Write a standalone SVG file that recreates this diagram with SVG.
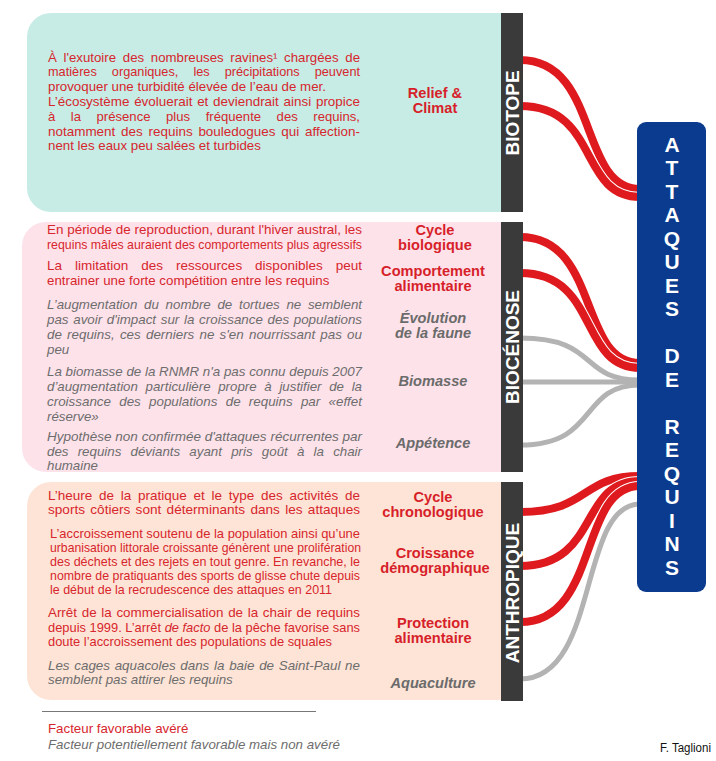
<svg xmlns="http://www.w3.org/2000/svg" width="716" height="761" viewBox="0 0 716 761">
<style>
text{font-family:"Liberation Sans",Arial,sans-serif}
.r{font-size:13.3px;fill:#d7262d}
.g{font-size:13.3px;fill:#6d6d6d;font-style:italic}
.lr{font-size:14.6px;font-weight:bold;fill:#d71f2a;text-anchor:middle}
.lg{font-size:14.6px;font-weight:bold;font-style:italic;fill:#6b6b6b;text-anchor:middle}
.bar{fill:#3a3a3a}
.bt{font-size:19px;font-weight:bold;fill:#fff;text-anchor:middle}
.bl{font-size:21px;font-weight:bold;fill:#fff;text-anchor:middle}
.cw{fill:none;stroke:#fff;stroke-width:10}
.cr{fill:none;stroke:#de1a1f;stroke-width:8}
.cg{fill:none;stroke:#b3b3b3;stroke-width:5}
</style>
<defs>
<path id="p1" d="M520,60 C600,60 578,189 640,189"/>
<path id="p2" d="M520,106 C600,106 578,197 640,197"/>
<path id="p3" d="M520,237 C600,237 578,363 640,363"/>
<path id="p4" d="M520,273 C600,273 578,368 640,368"/>
<path id="p5" d="M520,512 C590,512 580,476 640,476"/>
<path id="p6" d="M520,566 C600,566 578,481 640,481"/>
<path id="p7" d="M520,622 C600,622 578,486 640,486"/>
</defs>

<g id="panel-biotope">
<path d="M51,13 H502 V212 H51 A24 24 0 0 1 27 188 V37 A24 24 0 0 1 51 13 Z" fill="#c6ece5"/>
<text class="r" x="48" y="61.5" textLength="312" lengthAdjust="spacingAndGlyphs" style="word-spacing:3px">À l'exutoire des nombreuses ravines¹ chargées de</text>
<text class="r" x="48" y="76.3" textLength="312" lengthAdjust="spacingAndGlyphs" style="word-spacing:12px">matières organiques, les précipitations peuvent</text>
<text class="r" x="48" y="91.1">provoquer une turbidité élevée de l’eau de mer.</text>
<text class="r" x="48" y="105.9" textLength="312" lengthAdjust="spacingAndGlyphs" style="word-spacing:1px">L’écosystème évoluerait et deviendrait ainsi propice</text>
<text class="r" x="48" y="120.7" textLength="312" lengthAdjust="spacingAndGlyphs" style="word-spacing:12px">à la présence plus fréquente des requins,</text>
<text class="r" x="48" y="135.5" textLength="312" lengthAdjust="spacingAndGlyphs" style="word-spacing:2px">notamment des requins bouledogues qui affection-</text>
<text class="r" x="48" y="150.3">nent les eaux peu salées et turbides</text>
<text class="lr" x="435" y="98">Relief &amp;<tspan x="435" dy="15">Climat</tspan></text>
</g>

<g id="panel-biocenose">
<path d="M46,222 H502 V472 H46 A24 24 0 0 1 22 448 V246 A24 24 0 0 1 46 222 Z" fill="#fde2ea"/>
<text class="r" x="47" y="234" textLength="315" lengthAdjust="spacingAndGlyphs">En période de reproduction, durant l'hiver austral, les</text>
<text class="r" x="47" y="249" textLength="315" lengthAdjust="spacingAndGlyphs">requins mâles auraient des comportements plus agressifs</text>
<text class="r" x="47" y="269.5" textLength="315" lengthAdjust="spacingAndGlyphs" style="word-spacing:9px">La limitation des ressources disponibles peut</text>
<text class="r" x="47" y="284.5">entrainer une forte compétition entre les requins</text>
<text class="g" x="47" y="308.5" textLength="315" lengthAdjust="spacingAndGlyphs" style="word-spacing:3px">L’augmentation du nombre de tortues ne semblent</text>
<text class="g" x="47" y="323.5" textLength="315" lengthAdjust="spacingAndGlyphs" style="word-spacing:1px">pas avoir d'impact sur la croissance des populations</text>
<text class="g" x="47" y="338.5" textLength="315" lengthAdjust="spacingAndGlyphs" style="word-spacing:1.5px">de requins, ces derniers ne s'en nourrissant pas ou</text>
<text class="g" x="47" y="353.5">peu</text>
<text class="g" x="47" y="375.5" textLength="315" lengthAdjust="spacingAndGlyphs">La biomasse de la RNMR n'a pas connu depuis 2007</text>
<text class="g" x="47" y="390.5" textLength="315" lengthAdjust="spacingAndGlyphs" style="word-spacing:4px">d’augmentation particulière propre à justifier de la</text>
<text class="g" x="47" y="405.5" textLength="315" lengthAdjust="spacingAndGlyphs" style="word-spacing:4.5px">croissance des populations de requins par «effet</text>
<text class="g" x="47" y="420.5">réserve»</text>
<text class="g" x="47" y="440.5" textLength="315" lengthAdjust="spacingAndGlyphs">Hypothèse non confirmée d'attaques récurrentes par</text>
<text class="g" x="47" y="455.5" textLength="315" lengthAdjust="spacingAndGlyphs" style="word-spacing:5.5px">des requins déviants ayant pris goût à la chair</text>
<text class="g" x="47" y="469.5">humaine</text>
<text class="lr" x="435" y="235">Cycle<tspan x="435" dy="15">biologique</tspan></text>
<text class="lr" x="433" y="276">Comportement<tspan x="433" dy="15">alimentaire</tspan></text>
<text class="lg" x="433" y="323">Évolution<tspan x="433" dy="15">de la faune</tspan></text>
<text class="lg" x="433" y="386">Biomasse</text>
<text class="lg" x="433" y="448">Appétence</text>
</g>

<g id="panel-anthropique">
<path d="M51,482 H502 V700 H51 A24 24 0 0 1 27 676 V506 A24 24 0 0 1 51 482 Z" fill="#fde4d6"/>
<text class="r" x="48" y="499.5" textLength="312" lengthAdjust="spacingAndGlyphs" style="word-spacing:3px">L’heure de la pratique et le type des activités de</text>
<text class="r" x="48" y="513.5" textLength="312" lengthAdjust="spacingAndGlyphs" style="word-spacing:1.5px">sports côtiers sont déterminants dans les attaques</text>
<text class="r" x="50" y="537.5" textLength="310" lengthAdjust="spacingAndGlyphs">L’accroissement soutenu de la population ainsi qu’une</text>
<text class="r" x="50" y="551.5" textLength="311" lengthAdjust="spacingAndGlyphs">urbanisation littorale croissante génèrent une prolifération</text>
<text class="r" x="50" y="565.5" textLength="310" lengthAdjust="spacingAndGlyphs">des déchets et des rejets en tout genre. En revanche, le</text>
<text class="r" x="50" y="579.5" textLength="310" lengthAdjust="spacingAndGlyphs">nombre de pratiquants des sports de glisse chute depuis</text>
<text class="r" x="50" y="593.5" textLength="282" lengthAdjust="spacingAndGlyphs">le début de la recrudescence des attaques en 2011</text>
<text class="r" x="48" y="617" textLength="312" lengthAdjust="spacingAndGlyphs" style="word-spacing:1px">Arrêt de la commercialisation de la chair de requins</text>
<text class="r" x="48" y="631.5" textLength="312" lengthAdjust="spacingAndGlyphs">depuis 1999. L’arrêt <tspan font-style="italic">de facto</tspan> de la pêche favorise sans</text>
<text class="r" x="48" y="645.5" textLength="284" lengthAdjust="spacingAndGlyphs">doute l’accroissement des populations de squales</text>
<text class="g" x="48" y="669.5" textLength="312" lengthAdjust="spacingAndGlyphs" style="word-spacing:1px">Les cages aquacoles dans la baie de Saint-Paul ne</text>
<text class="g" x="48" y="684">semblent pas attirer les requins</text>
<text class="lr" x="433" y="502">Cycle<tspan x="433" dy="15">chronologique</tspan></text>
<text class="lr" x="435" y="558">Croissance<tspan x="435" dy="15">démographique</tspan></text>
<text class="lr" x="433" y="628">Protection<tspan x="433" dy="15">alimentaire</tspan></text>
<text class="lg" x="433" y="688">Aquaculture</text>
</g>

<g id="connectors">
<path class="cg" d="M520,338 C600,338 578,380 640,380"/>
<path class="cg" d="M520,382 H640"/>
<path class="cg" d="M520,445 C600,445 578,385 640,385"/>
<path class="cg" d="M520,679 C600,679 578,504 640,504"/>
<use href="#p1" class="cw"/><use href="#p1" class="cr"/>
<use href="#p2" class="cw"/><use href="#p2" class="cr"/>
<use href="#p3" class="cw"/><use href="#p3" class="cr"/>
<use href="#p4" class="cw"/><use href="#p4" class="cr"/>
<use href="#p5" class="cw"/><use href="#p5" class="cr"/>
<use href="#p6" class="cw"/><use href="#p6" class="cr"/>
<use href="#p7" class="cw"/><use href="#p7" class="cr"/>
</g>

<g id="bar-biotope">
<rect class="bar" x="501" y="13" width="22" height="199"/>
<text class="bt" transform="translate(519,113) rotate(-90)">BIOTOPE</text>
</g>
<g id="bar-biocenose">
<rect class="bar" x="501" y="222" width="22" height="250"/>
<text class="bt" transform="translate(519,347) rotate(-90)">BIOCÉNOSE</text>
</g>
<g id="bar-anthropique">
<rect class="bar" x="501" y="482" width="22" height="219"/>
<text class="bt" transform="translate(519,593) rotate(-90)">ANTHROPIQUE</text>
</g>

<g id="attaques">
<rect x="637" y="122" width="69" height="470" rx="9" fill="#0a3b8e"/>
<text class="bl" x="672" y="151.5">A</text>
<text class="bl" x="672" y="175">T</text>
<text class="bl" x="672" y="198.5">T</text>
<text class="bl" x="672" y="222">A</text>
<text class="bl" x="672" y="245.5">Q</text>
<text class="bl" x="672" y="269">U</text>
<text class="bl" x="672" y="292.5">E</text>
<text class="bl" x="672" y="316">S</text>
<text class="bl" x="672" y="363">D</text>
<text class="bl" x="672" y="386.5">E</text>
<text class="bl" x="672" y="433.5">R</text>
<text class="bl" x="672" y="457">E</text>
<text class="bl" x="672" y="480.5">Q</text>
<text class="bl" x="672" y="504">U</text>
<text class="bl" x="672" y="527.5">I</text>
<text class="bl" x="672" y="551">N</text>
<text class="bl" x="672" y="574.5">S</text>
</g>

<g id="legend">
<line x1="42" y1="711.5" x2="316" y2="711.5" stroke="#777" stroke-width="1"/>
<text class="r" x="48" y="733">Facteur favorable avéré</text>
<text class="g" x="48" y="749">Facteur potentiellement favorable mais non avéré</text>
<text x="711" y="752" text-anchor="end" font-size="12" fill="#111" textLength="51" lengthAdjust="spacingAndGlyphs">F. Taglioni</text>
</g>
</svg>
